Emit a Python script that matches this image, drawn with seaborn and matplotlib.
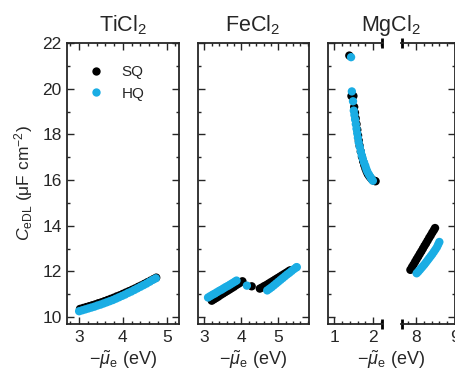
import numpy as np
import pandas as pd
import matplotlib
matplotlib.use("Agg")
import matplotlib.pyplot as plt
import seaborn as sns
from matplotlib.ticker import MultipleLocator

# TiCl2
ti_sq_x = [3.02, 3.09, 3.16, 3.23, 3.30, 3.37, 3.44, 3.51, 3.58, 3.65, 3.72, 3.79, 3.86,
           3.93, 4.00, 4.07, 4.14, 4.21, 4.28, 4.35, 4.42, 4.49, 4.56, 4.63, 4.70, 4.76]
ti_sq_y = [10.36, 10.40, 10.44, 10.48, 10.52, 10.56, 10.61, 10.65, 10.70, 10.75, 10.80, 10.85, 10.91,
           10.96, 11.02, 11.08, 11.14, 11.20, 11.26, 11.33, 11.39, 11.46, 11.53, 11.60, 11.67, 11.73]
ti_hq_x = [3.00, 3.07, 3.14, 3.21, 3.28, 3.35, 3.42, 3.49, 3.56, 3.63, 3.70, 3.77, 3.84,
           3.91, 3.98, 4.05, 4.12, 4.19, 4.26, 4.33, 4.40, 4.47, 4.54, 4.61, 4.68, 4.75]
ti_hq_y = [10.26, 10.30, 10.34, 10.38, 10.42, 10.46, 10.51, 10.55, 10.60, 10.65, 10.70, 10.75, 10.81,
           10.87, 10.93, 10.99, 11.06, 11.12, 11.19, 11.26, 11.33, 11.40, 11.47, 11.55, 11.63, 11.70]

# FeCl2
fe_sq_x = [3.20, 3.26, 3.32, 3.38, 3.44, 3.50, 3.56, 3.62, 3.68, 3.74, 3.80, 3.86, 3.92, 3.98, 4.03,
           4.28,
           4.50, 4.56, 4.62, 4.68, 4.74, 4.80, 4.86, 4.92, 4.98, 5.04, 5.10, 5.16, 5.22, 5.28, 5.32]
fe_sq_y = [10.72, 10.78, 10.84, 10.90, 10.97, 11.03, 11.09, 11.15, 11.21, 11.27, 11.33, 11.40, 11.46, 11.52, 11.57,
           11.35,
           11.25, 11.30, 11.36, 11.41, 11.47, 11.53, 11.59, 11.65, 11.71, 11.77, 11.83, 11.89, 11.95, 12.01, 12.05]
fe_hq_x = [3.10, 3.16, 3.22, 3.28, 3.34, 3.40, 3.46, 3.52, 3.58, 3.64, 3.70, 3.76, 3.82, 3.87,
           4.15,
           4.70, 4.76, 4.82, 4.88, 4.94, 5.00, 5.06, 5.12, 5.18, 5.24, 5.30, 5.36, 5.42, 5.48, 5.50]
fe_hq_y = [10.86, 10.92, 10.98, 11.03, 11.09, 11.15, 11.20, 11.26, 11.32, 11.37, 11.43, 11.49, 11.55, 11.60,
           11.38,
           11.17, 11.24, 11.31, 11.39, 11.47, 11.55, 11.63, 11.71, 11.79, 11.87, 11.94, 12.02, 12.10, 12.17, 12.19]

# MgCl2 (low range)
mg1_sq_x = [1.385, 1.44, 1.49, 1.51, 1.53, 1.55, 1.57, 1.59, 1.61, 1.63, 1.65, 1.68, 1.71, 1.74,
            1.77, 1.80, 1.83, 1.86, 1.90, 1.94, 1.97, 2.01, 2.04, 2.06]
mg1_sq_y = [21.45, 19.68, 19.68, 19.20, 18.95, 18.70, 18.45, 18.20, 17.95, 17.72, 17.50, 17.25, 17.02, 16.82,
            16.65, 16.50, 16.37, 16.26, 16.16, 16.08, 16.02, 15.98, 15.96, 15.95]
mg1_hq_x = [1.43, 1.45, 1.48, 1.500, 1.516, 1.534, 1.552, 1.570, 1.588, 1.606, 1.626, 1.653, 1.681,
            1.706, 1.733, 1.765, 1.796, 1.822, 1.850, 1.890, 1.925, 1.955, 1.990]
mg1_hq_y = [21.38, 19.88, 19.45, 19.04, 18.85, 18.65, 18.45, 18.25, 18.05, 17.85, 17.65, 17.45, 17.25,
            17.08, 16.92, 16.76, 16.62, 16.48, 16.36, 16.24, 16.14, 16.05, 15.97]

# MgCl2 (high range)
mg2_sq_x = [7.86, 7.90, 7.94, 7.98, 8.02, 8.06, 8.10, 8.14, 8.18, 8.22, 8.26, 8.30, 8.34, 8.38, 8.42, 8.46, 8.49]
mg2_sq_y = [12.07, 12.19, 12.30, 12.42, 12.54, 12.65, 12.77, 12.88, 13.00, 13.12, 13.23, 13.35, 13.47, 13.58, 13.70, 13.81, 13.90]
mg2_hq_x = [8.02, 8.06, 8.10, 8.14, 8.18, 8.22, 8.26, 8.30, 8.34, 8.38, 8.42, 8.46, 8.50, 8.54, 8.57, 8.60]
mg2_hq_y = [11.92, 11.99, 12.07, 12.15, 12.23, 12.31, 12.40, 12.49, 12.58, 12.67, 12.76, 12.86, 12.96, 13.07, 13.18, 13.29]

titles = ["TiCl$_2$", "FeCl$_2$", "MgCl$_2$"]
colors = {"SQ": "black", "HQ": "#1AADE4"}

sns.set_style("ticks")
plt.rcParams["font.family"] = ["Liberation Sans", "DejaVu Sans"]
plt.rcParams["mathtext.fontset"] = "custom"
plt.rcParams["mathtext.rm"] = "Liberation Sans"
plt.rcParams["mathtext.it"] = "Liberation Sans:italic"
plt.rcParams["mathtext.bf"] = "Liberation Sans:bold"


def frame(sq_x, sq_y, hq_x, hq_y):
    return pd.DataFrame({
        "x": sq_x + hq_x,
        "y": sq_y + hq_y,
        "kind": ["SQ"] * len(sq_x) + ["HQ"] * len(hq_x),
    })


fig = plt.figure(figsize=(4.55, 3.75), dpi=100)
W, H = 455, 375


def add_ax(x0, x1, y0=43, y1=324):
    return fig.add_axes([x0 / W, 1 - y1 / H, (x1 - x0) / W, (y1 - y0) / H])


ax1 = add_ax(67.3, 179)
ax2 = add_ax(197.7, 309)
ax3a = add_ax(327.7, 383)
ax3b = add_ax(401, 455)
axes = [ax1, ax2, ax3a, ax3b]

data = [frame(ti_sq_x, ti_sq_y, ti_hq_x, ti_hq_y),
        frame(fe_sq_x, fe_sq_y, fe_hq_x, fe_hq_y),
        frame(mg1_sq_x, mg1_sq_y, mg1_hq_x, mg1_hq_y),
        frame(mg2_sq_x, mg2_sq_y, mg2_hq_x, mg2_hq_y)]
xlims = [(2.73, 5.28), (2.82, 5.83), (0.83, 2.25), (7.62, 9.0)]

for i, (ax, df) in enumerate(zip(axes, data)):
    sns.scatterplot(data=df, x="x", y="y", hue="kind", palette=colors, s=36,
                    linewidth=0, ax=ax, legend=(i == 0), clip_on=False)
    ax.set_xlim(*xlims[i])
    ax.set_ylim(9.7, 22.0)
    ax.xaxis.set_major_locator(MultipleLocator(1))
    ax.xaxis.set_minor_locator(MultipleLocator(0.2))
    ax.yaxis.set_major_locator(MultipleLocator(2))
    ax.yaxis.set_minor_locator(MultipleLocator(1))
    ax.tick_params(which="both", direction="in", top=True, right=True,
                   width=1.0, labelsize=12.5, pad=4)
    ax.tick_params(which="major", length=4.8)
    ax.tick_params(which="minor", length=2.4)
    for sp in ax.spines.values():
        sp.set_linewidth(1.3)
    ax.set_xlabel("")
    ax.set_ylabel("")
    if i > 0:
        ax.tick_params(labelleft=False)

ax3a.spines["right"].set_visible(False)
ax3a.tick_params(which="both", right=False)
ax3b.spines["left"].set_visible(False)
ax3b.tick_params(which="both", left=False)

# break marks
for ax, xa in [(ax3a, 1.0), (ax3b, 0.0)]:
    off = -0.02 if xa == 1.0 else 0.02
    for ya in (0.0, 1.0):
        ax.plot([xa + off], [ya], marker="|", markersize=7, mew=2, color="black",
                transform=ax.transAxes, clip_on=False)

ax1.set_ylabel(r"$C_{\mathrm{eDL}}$ (μF cm$^{-2}$)", fontsize=12.5, labelpad=5)

handles, labels = ax1.get_legend_handles_labels()
ax1.legend(handles, labels, loc="upper left", frameon=False, fontsize=11,
           handletextpad=0.7, borderaxespad=0.3, labelspacing=0.5,
           bbox_to_anchor=(0.02, 0.96), markerscale=1.0)

xlab = r"$-\tilde{\mu}_{\mathrm{e}}$ (eV)"
for cx, t in [(123, titles[0]), (253, titles[1]), (391, titles[2])]:
    fig.text(cx / W, 1 - 25 / H, t, ha="center", va="center", fontsize=15.5)
    fig.text(cx / W, 1 - 360 / H, xlab, ha="center", va="center", fontsize=13)

fig.savefig("out.png", dpi=100)
